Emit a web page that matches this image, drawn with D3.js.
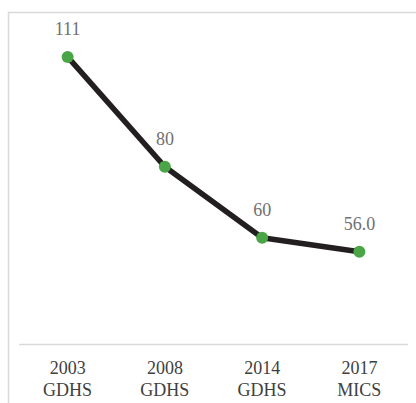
<!DOCTYPE html>
<html><head><meta charset="utf-8">
<script src="https://cdn.jsdelivr.net/npm/d3@7"></script>
<style>body{margin:0;background:#fff}svg{display:block}</style>
</head><body>
<svg id="c" width="416" height="403" style="font-family:'Liberation Serif','Times New Roman',Times"></svg>
<script>
const categories = [["2003","GDHS"],["2008","GDHS"],["2014","GDHS"],["2017","MICS"]];
const values = [111, 80, 60, 56.0];
const valueLabels = ["111", "80", "60", "56.0"];

const svg = d3.select("#c");
const W = 416, H = 403;
svg.append("path").attr("d", `M8.5,${H} V12.5 H${W}`).attr("fill","none").attr("stroke","#d9d9d9").attr("stroke-width",1.5);

const x = d3.scaleBand().domain(categories.map(d=>d.join(" "))).range([19, 408]);
const y = d3.scaleLinear().domain([30, 120]).range([344, 25]);

svg.append("line").attr("x1",19).attr("x2",408).attr("y1",344.5).attr("y2",344.5).attr("stroke","#d9d9d9").attr("stroke-width",1.5);

const xc = (d,i) => x(categories[i].join(" ")) + x.bandwidth()/2;

svg.append("path").datum(values)
  .attr("d", d3.line().x((d,i)=>xc(d,i)).y(d=>y(d)))
  .attr("fill","none").attr("stroke","#231f20").attr("stroke-width",5.5).attr("stroke-linejoin","round");

svg.selectAll("circle").data(values).join("circle")
  .attr("cx",(d,i)=>xc(d,i)).attr("cy",d=>y(d)).attr("r",6).attr("fill","#4aa547");

svg.selectAll("text.val").data(values).join("text").attr("class","val")
  .attr("x",(d,i)=>xc(d,i)).attr("y",d=>y(d)-22)
  .attr("text-anchor","middle").attr("font-size",18)
  .attr("fill","#707070").text((d,i)=>valueLabels[i]);

categories.forEach((c,i)=>{
  const t = svg.append("text").attr("text-anchor","middle")
    .attr("font-size",18).attr("fill","#404040");
  t.append("tspan").attr("x", xc(0,i)).attr("y",374).text(c[0]);
  t.append("tspan").attr("x", xc(0,i)).attr("y",396).text(c[1]);
});
</script>
</body></html>
